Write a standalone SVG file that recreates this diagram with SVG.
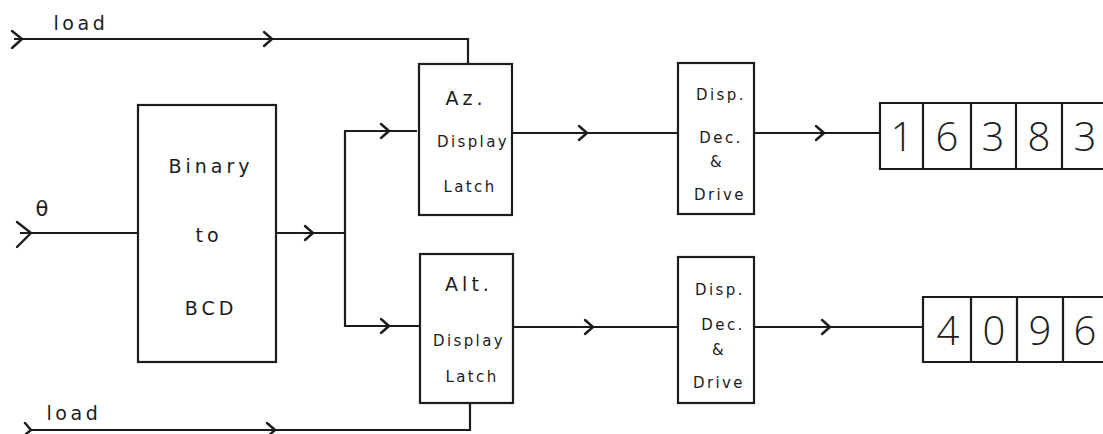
<svg xmlns="http://www.w3.org/2000/svg" width="1103" height="434" viewBox="0 0 1103 434">
<style>
.ln{fill:none;stroke:#1c1c1c;stroke-width:2.2;stroke-linejoin:miter}
.bx{fill:none;stroke:#1c1c1c;stroke-width:2.2}
.ch{fill:none;stroke:#1c1c1c;stroke-width:2.4;stroke-linecap:round;stroke-linejoin:round}
.t{font-family:"DejaVu Sans",sans-serif;fill:#1c1c1c;text-anchor:middle}
.lb{font-size:19px;letter-spacing:3.6px}
.sm{font-size:15px;letter-spacing:2.4px}
.md{font-size:19px;letter-spacing:4px}
.dg{font-family:"Open Sans","DejaVu Sans",sans-serif;font-weight:300;font-size:40px;fill:#1c1c1c;text-anchor:middle}
</style>
<defs>
<path id="chev" class="ch" d="M-8,-7 L0,0 L-8,7"/>
</defs>
<rect width="1103" height="434" fill="#ffffff"/>
<g id="connectors">
<path class="ln" d="M14,39 H468 V64"/>
<path class="ch" d="M12,31 L22,39 L12,48"/>
<use href="#chev" x="272" y="39"/>
<path class="ln" d="M20,233 H138"/>
<path class="ch" d="M17,222 L31,233 L17,247"/>
<path class="ln" d="M276,233 H344"/>
<use href="#chev" x="313" y="233"/>
<path class="ln" d="M417,131 H345 V326 H419"/>
<use href="#chev" x="389" y="131"/>
<use href="#chev" x="389" y="326"/>
<path class="ln" d="M512,133 H678"/>
<use href="#chev" x="587" y="133"/>
<path class="ln" d="M754,133 H880"/>
<use href="#chev" x="824" y="133"/>
<path class="ln" d="M513,327 H678"/>
<use href="#chev" x="593" y="327"/>
<path class="ln" d="M754,327 H923"/>
<use href="#chev" x="830" y="327"/>
<path class="ln" d="M470,403 V430 H30"/>
<path class="ch" d="M25,423 L31,430 L26,434"/>
<use href="#chev" x="275" y="430"/>
</g>
<g id="labels">
<text class="t lb" x="81" y="30">load</text>
<text class="t lb" x="74" y="420">load</text>
<text class="t" x="42" y="216" font-size="21">θ</text>
</g>
<g id="binary">
<rect class="bx" x="138" y="105" width="138" height="257"/>
<text class="t md" x="211" y="173">Binary</text>
<text class="t md" x="209" y="242">to</text>
<text class="t md" x="211" y="315">BCD</text>
</g>
<g id="az-latch">
<rect class="bx" x="419" y="64" width="93" height="151"/>
<text class="t md" x="466" y="105">Az.</text>
<text class="t sm" x="473" y="147">Display</text>
<text class="t sm" x="470" y="192">Latch</text>
</g>
<g id="alt-latch">
<rect class="bx" x="420" y="254" width="93" height="149"/>
<text class="t md" x="469" y="291">Alt.</text>
<text class="t sm" x="469" y="346">Display</text>
<text class="t sm" x="472" y="382">Latch</text>
</g>
<g id="az-drive">
<rect class="bx" x="678" y="63" width="76" height="151"/>
<text class="t sm" x="721" y="100">Disp.</text>
<text class="t sm" x="721" y="143">Dec.</text>
<text class="t sm" x="717" y="167">&amp;</text>
<text class="t sm" x="720" y="200">Drive</text>
</g>
<g id="alt-drive">
<rect class="bx" x="678" y="257" width="76" height="146"/>
<text class="t sm" x="720" y="295">Disp.</text>
<text class="t sm" x="723" y="330">Dec.</text>
<text class="t sm" x="719" y="355">&amp;</text>
<text class="t sm" x="719" y="388">Drive</text>
</g>
<g id="az-display">
<path class="bx" d="M1104,103 H880 V169 H1104 M923,103 V169 M971,103 V169 M1016,103 V169 M1062,103 V169"/>
<text class="dg" x="902" y="151">1</text>
<text class="dg" x="947" y="151">6</text>
<text class="dg" x="993" y="151">3</text>
<text class="dg" x="1039" y="151">8</text>
<text class="dg" x="1085" y="151">3</text>
</g>
<g id="alt-display">
<path class="bx" d="M1104,297 H923 V362 H1104 M971,297 V362 M1017,297 V362 M1063,297 V362"/>
<text class="dg" x="948" y="345">4</text>
<text class="dg" x="994" y="345">0</text>
<text class="dg" x="1040" y="345">9</text>
<text class="dg" x="1085" y="345">6</text>
</g>
</svg>
